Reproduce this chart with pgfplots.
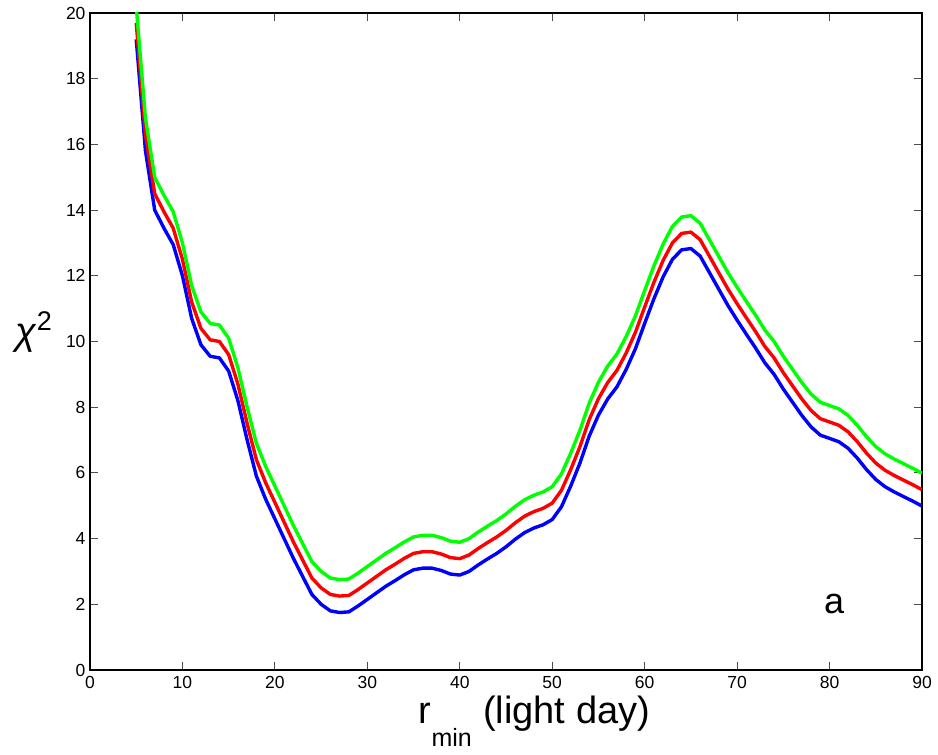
\documentclass[border=0pt]{standalone}
\usepackage{pgfplots}
\usepackage{pgfplotstable}
\usepackage{fontspec}
\setmainfont{Liberation Sans}
\pgfplotsset{compat=1.18}

% columns: r_min, blue, red, green
\pgfplotstableread{
x b r g
5 19.20 19.70 20.20
6 15.80 16.30 16.80
7 14.00 14.50 15.00
8 13.45 13.95 14.45
9 12.95 13.45 13.95
10 12.00 12.50 13.00
11 10.70 11.20 11.70
12 9.90 10.40 10.90
13 9.55 10.05 10.55
14 9.50 10.00 10.50
15 9.10 9.60 10.10
16 8.20 8.70 9.20
17 7.00 7.50 8.00
18 5.90 6.40 6.90
19 5.20 5.70 6.20
20 4.60 5.10 5.60
21 4.00 4.50 5.00
22 3.40 3.90 4.40
23 2.85 3.35 3.85
24 2.30 2.80 3.30
25 2.00 2.50 3.00
26 1.80 2.30 2.80
27 1.75 2.25 2.75
28 1.77 2.27 2.77
29 1.95 2.45 2.95
30 2.15 2.65 3.15
31 2.35 2.85 3.35
32 2.55 3.05 3.55
33 2.72 3.22 3.72
34 2.90 3.40 3.90
35 3.05 3.55 4.05
36 3.10 3.60 4.10
37 3.10 3.60 4.10
38 3.03 3.53 4.03
39 2.92 3.42 3.92
40 2.89 3.39 3.89
41 3.00 3.50 4.00
42 3.20 3.70 4.20
43 3.38 3.88 4.38
44 3.55 4.05 4.55
45 3.75 4.25 4.75
46 3.98 4.48 4.98
47 4.18 4.68 5.18
48 4.32 4.82 5.32
49 4.42 4.92 5.42
50 4.58 5.08 5.58
51 4.97 5.47 5.97
52 5.60 6.10 6.60
53 6.30 6.80 7.30
54 7.12 7.62 8.12
55 7.76 8.26 8.76
56 8.25 8.75 9.25
57 8.62 9.12 9.62
58 9.15 9.65 10.15
59 9.78 10.28 10.78
60 10.55 11.05 11.55
61 11.30 11.80 12.30
62 11.97 12.47 12.97
63 12.50 13.00 13.50
64 12.79 13.29 13.79
65 12.83 13.33 13.83
66 12.60 13.10 13.60
67 12.10 12.60 13.10
68 11.60 12.10 12.60
69 11.10 11.60 12.10
70 10.65 11.15 11.65
71 10.22 10.72 11.22
72 9.80 10.30 10.80
73 9.35 9.85 10.35
74 9.00 9.50 10.00
75 8.55 9.05 9.55
76 8.15 8.65 9.15
77 7.75 8.25 8.75
78 7.40 7.90 8.40
79 7.15 7.65 8.15
80 7.05 7.55 8.05
81 6.95 7.45 7.95
82 6.75 7.25 7.75
83 6.45 6.95 7.45
84 6.10 6.60 7.10
85 5.80 6.30 6.80
86 5.58 6.08 6.58
87 5.42 5.92 6.42
88 5.28 5.78 6.28
89 5.14 5.64 6.14
90 4.99 5.49 5.99
}\chisq

\begin{document}
\begin{tikzpicture}
\begin{axis}[
    width=832pt, height=657pt, scale only axis,
    xmin=0, xmax=90, ymin=0, ymax=20,
    xtick={0,10,...,90}, ytick={0,2,...,20},
    tick align=inside,
    major tick length=8pt,
    axis line style={line width=1.7pt},
    every tick/.style={black!70, line width=0.8pt},
    /pgf/number format/assume math mode=true,
    ticklabel style={font=\fontsize{17.5}{20}\selectfont},
    xticklabel style={yshift=-3pt},
    yticklabel style={xshift=-1pt},
    xlabel={r\raisebox{-23pt}{\fontsize{25}{25}\selectfont min}\hspace{0.3em}(light day)},
    xlabel style={font=\fontsize{38}{40}\selectfont, anchor=base west,
        at={(axis description cs:0.391,0)}, yshift=-53pt},
    ylabel={\textit{χ}\raisebox{14pt}{\fontsize{27}{27}\selectfont 2}},
    ylabel style={font=\fontsize{38}{40}\selectfont, rotate=-90, anchor=base west,
        at={(axis description cs:0,0.5)}, xshift=-78pt, yshift=-3pt},
    every axis plot/.style={line width=3.4pt, line join=round, no markers},
]
\addplot[blue] table[x=x, y=b] {\chisq};
\addplot[red] table[x=x, y=r] {\chisq};
\addplot[green] table[x=x, y=g] {\chisq};
\node[font=\fontsize{36}{38}\selectfont, anchor=base] at (axis cs:80.5,1.73) {a};
\end{axis}
\pgfresetboundingbox
\useasboundingbox ([shift={(-90pt,-84pt)}]current axis.south west) rectangle ([shift={(16pt,13pt)}]current axis.north east);
\end{tikzpicture}
\end{document}
